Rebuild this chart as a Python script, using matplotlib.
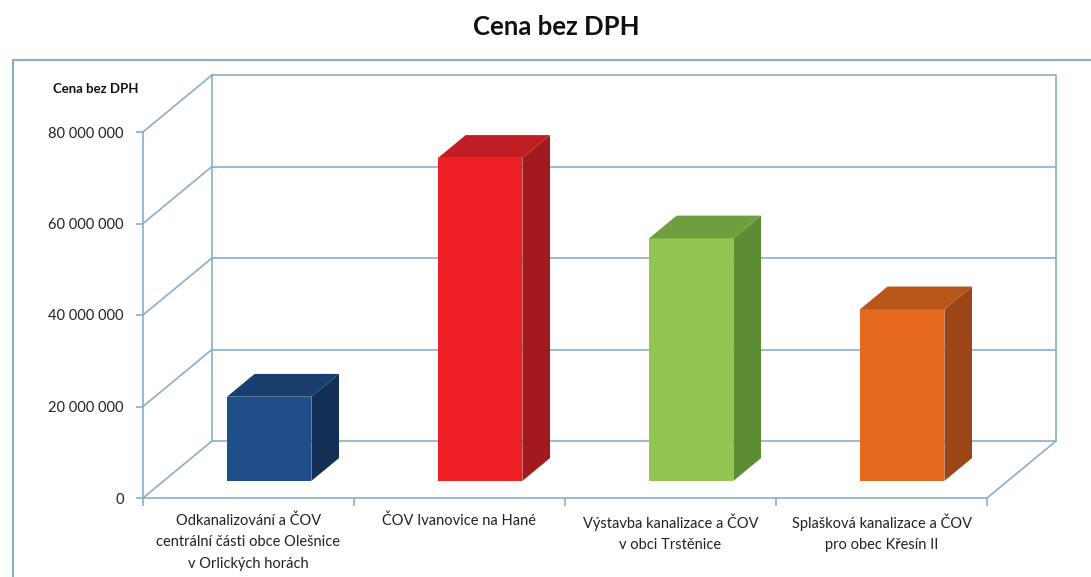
import matplotlib
matplotlib.use("Agg")
import matplotlib.pyplot as plt
from matplotlib.patches import Polygon, Rectangle
from matplotlib.ticker import FuncFormatter

# ---- data ----
categories = [
    "Odkanalizování a ČOV\ncentrální části obce Olešnice\nv Orlických horách",
    "ČOV Ivanovice na Hané",
    "Výstavba kanalizace a ČOV\nv obci Trstěnice",
    "Splašková kanalizace a ČOV\npro obec Křesín II",
]
values = [18.4e6, 70.6e6, 53.0e6, 37.5e6]
y_ticks = [0, 20e6, 40e6, 60e6, 80e6]
title = "Cena bez DPH"
y_label = "Cena bez DPH"

front_colors = ["#1F4E8A", "#ED1F24", "#92C551", "#E5691F"]
top_colors = ["#173E6E", "#C01E22", "#6E9E3D", "#B8561A"]
side_colors = ["#132F55", "#A11A1E", "#5D8C33", "#9C4617"]

# ---- layout ----
W, H, DPI = 1091, 577, 100
fig = plt.figure(figsize=(W / DPI, H / DPI), dpi=DPI)
plt.rcParams["font.family"] = ["Lato", "DejaVu Sans"]

ax_l, ax_r, ax_t, ax_b = 143, 987, 132, 498
ax = fig.add_axes([ax_l / W, (H - ax_b) / H, (ax_r - ax_l) / W, (ax_b - ax_t) / H])
n = len(categories)
ymax = y_ticks[-1]
ax.set_xlim(0, n)
ax.set_ylim(0, ymax)
ax.set_facecolor("none")

# pixel -> data conversion
px_x = n / (ax_r - ax_l)
px_y = ymax / (ax_b - ax_t)
DEPTH_X, DEPTH_Y = 69 * px_x, 57 * px_y   # full floor depth (oblique)

line_c = "#86B0CA"
lw = 1.2

# back wall & side wall gridlines
for v in y_ticks:
    ax.plot([DEPTH_X, n + DEPTH_X], [v + DEPTH_Y, v + DEPTH_Y], color=line_c, lw=lw,
            clip_on=False, zorder=1, solid_capstyle="butt")
    ax.plot([0, DEPTH_X], [v, v + DEPTH_Y], color=line_c, lw=lw, clip_on=False, zorder=1)
ax.plot([DEPTH_X, DEPTH_X], [DEPTH_Y, ymax + DEPTH_Y], color=line_c, lw=lw, clip_on=False, zorder=1)
ax.plot([n + DEPTH_X, n + DEPTH_X], [DEPTH_Y, ymax + DEPTH_Y], color=line_c, lw=lw, clip_on=False, zorder=1)
ax.plot([n, n + DEPTH_X], [0, DEPTH_Y], color=line_c, lw=lw, clip_on=False, zorder=1)

# bars
f0, f1 = 0.3, 0.7
bw = 0.4
for i, v in enumerate(values):
    x0 = i + 0.5 - bw / 2
    x1 = i + 0.5 + bw / 2
    ox0, oy0 = f0 * DEPTH_X, f0 * DEPTH_Y
    ox1, oy1 = f1 * DEPTH_X, f1 * DEPTH_Y
    front = Polygon([(x0 + ox0, oy0), (x1 + ox0, oy0), (x1 + ox0, v + oy0), (x0 + ox0, v + oy0)],
                    closed=True, facecolor=front_colors[i], edgecolor="none", clip_on=False, zorder=3)
    side = Polygon([(x1 + ox0, oy0), (x1 + ox1, oy1), (x1 + ox1, v + oy1), (x1 + ox0, v + oy0)],
                   closed=True, facecolor=side_colors[i], edgecolor="none", clip_on=False, zorder=3)
    top = Polygon([(x0 + ox0, v + oy0), (x1 + ox0, v + oy0), (x1 + ox1, v + oy1), (x0 + ox1, v + oy1)],
                  closed=True, facecolor=top_colors[i], edgecolor="none", clip_on=False, zorder=3)
    for p in (front, side, top):
        ax.add_patch(p)

# axes styling
for s in ("top", "right"):
    ax.spines[s].set_visible(False)
for s in ("left", "bottom"):
    ax.spines[s].set_color(line_c)
    ax.spines[s].set_linewidth(lw)

ax.set_yticks(y_ticks)
ax.yaxis.set_major_formatter(FuncFormatter(lambda v, p: f"{int(round(v)):,}".replace(",", " ")))
ax.tick_params(axis="y", direction="out", length=5, width=lw, color=line_c, pad=9,
               labelsize=10.5, labelcolor="#222222")

ax.set_xticks(range(n + 1))
ax.set_xticklabels([])
ax.tick_params(axis="x", which="major", direction="out", length=6, width=lw, color=line_c)
ax.set_xticks([i + 0.5 for i in range(n)], minor=True)
ax.set_xticklabels(categories, minor=True, fontsize=10.5, color="#222222", linespacing=1.7)
ax.tick_params(axis="x", which="minor", length=0, pad=11)

# texts
fig.text(556 / W, 1 - 27 / H, title, ha="center", va="center", fontsize=18.5, fontweight="bold",
         color="#111111")
fig.text(53 / W, 1 - 89 / H, y_label, ha="left", va="center", fontsize=9.5, fontweight="bold",
         color="#111111")

# outer chart border
fig.patches.append(Rectangle((13 / W, -0.05), 1.2, 1 - 60 / H + 0.05, transform=fig.transFigure,
                             fill=False, edgecolor=line_c, lw=1.5, zorder=0))

fig.savefig("out.png", dpi=DPI, facecolor="white")
